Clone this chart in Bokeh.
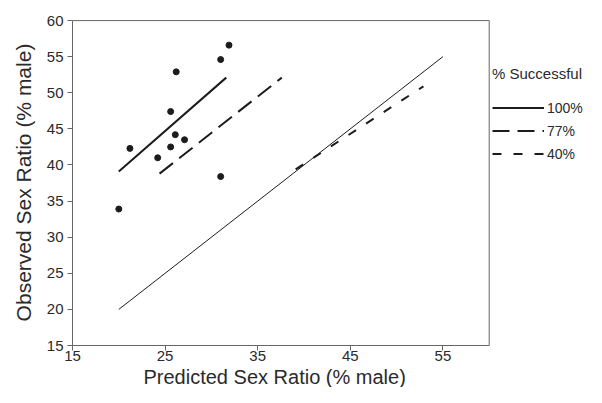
from bokeh.plotting import figure
from bokeh.models import Range1d, FixedTicker, Legend, LegendItem, Title
from bokeh.embed import file_html
from bokeh.resources import INLINE

# ---- data ----
pred = [20.0, 21.2, 24.2, 25.6, 25.6, 26.1, 26.2, 27.1, 31.0, 31.0, 31.9]
obs = [33.9, 42.3, 41.0, 42.5, 47.4, 44.2, 52.9, 43.5, 54.6, 38.4, 56.6]

fit100_x = [20.0, 31.6]
fit100_y = [39.1, 52.1]
fit77_x = [24.4, 37.6]
fit77_y = [38.8, 52.1]
fit40_x = [39.1, 52.9]
fit40_y = [39.4, 50.9]
parity_x = [20, 55]
parity_y = [20, 55]

x_ticks = [15, 25, 35, 45, 55]
y_ticks = [15, 20, 25, 30, 35, 40, 45, 50, 55, 60]
legend_labels = ["100%", "77%", "40%"]
legend_title = "% Successful"
x_title = "Predicted Sex Ratio (% male)"
y_title = "Observed Sex Ratio (% male)"

FONT = "Liberation Sans"
INK = "#1c1c1c"
AXIS = "#666666"
TEXT = "#2a2a2a"

W, H = 586, 387
LEFT, TOP, BOTTOM = 72, 19, 40
px_per_x = 9.26
x_end = 15 + (W - LEFT) / px_per_x

p = figure(width=W, height=H, output_backend="svg", toolbar_location=None,
           x_range=Range1d(15, x_end), y_range=Range1d(15, 60.15),
           min_border_left=LEFT, min_border_right=0, min_border_top=TOP,
           min_border_bottom=BOTTOM)
p.outline_line_color = None
p.grid.visible = False
p.background_fill_color = "white"
p.border_fill_color = "white"

for ax, ticks in ((p.xaxis[0], x_ticks), (p.yaxis[0], y_ticks)):
    ax.ticker = FixedTicker(ticks=ticks)
    ax.bounds = (15, 60)
    ax.axis_line_color = AXIS
    ax.major_tick_line_color = AXIS
    ax.major_tick_out = 5
    ax.major_tick_in = 0
    ax.minor_tick_line_color = None
    ax.major_label_text_font = FONT
    ax.major_label_text_font_size = "15px"
    ax.major_label_text_color = TEXT
    ax.axis_label_text_font = FONT
    ax.axis_label_text_font_style = "normal"
    ax.axis_label_text_color = TEXT

p.xaxis[0].major_label_standoff = 0
p.yaxis[0].axis_label = y_title
p.yaxis[0].major_label_standoff = 4
p.yaxis[0].axis_label_standoff = 9
p.yaxis[0].axis_label_text_font_size = "21px"

p.add_layout(Title(text=x_title, align="left", offset=71, standoff=0,
                   text_font=FONT, text_font_size="20px", text_font_style="normal",
                   text_color=TEXT), "below")

# frame box top and right
p.line([15, 60], [60, 60], line_color=AXIS, line_width=1)
p.line([60, 60], [15, 60], line_color=AXIS, line_width=1)

# parity line
p.line(parity_x, parity_y, line_color=INK, line_width=1)

r100 = p.line(fit100_x, fit100_y, line_color=INK, line_width=2)
r77 = p.line(fit77_x, fit77_y, line_color=INK, line_width=2, line_dash="17 8")
r40 = p.line(fit40_x, fit40_y, line_color=INK, line_width=2, line_dash="9 12")

p.scatter(pred, obs, size=6, color=INK)

legend = Legend(items=[LegendItem(label=legend_labels[0], renderers=[r100]),
                       LegendItem(label=legend_labels[1], renderers=[r77]),
                       LegendItem(label=legend_labels[2], renderers=[r40])],
                title=legend_title, location=(420, 180),
                border_line_color=None, background_fill_alpha=0,
                padding=2, margin=0, spacing=0, label_height=23, glyph_height=23,
                glyph_width=52, label_standoff=3, title_standoff=14,
                label_text_font=FONT, label_text_font_size="14px",
                label_text_color=TEXT, title_text_font=FONT,
                title_text_font_size="15px", title_text_color=TEXT,
                title_text_font_style="normal")
p.add_layout(legend)

open("out.html", "w").write(file_html(p, INLINE))
